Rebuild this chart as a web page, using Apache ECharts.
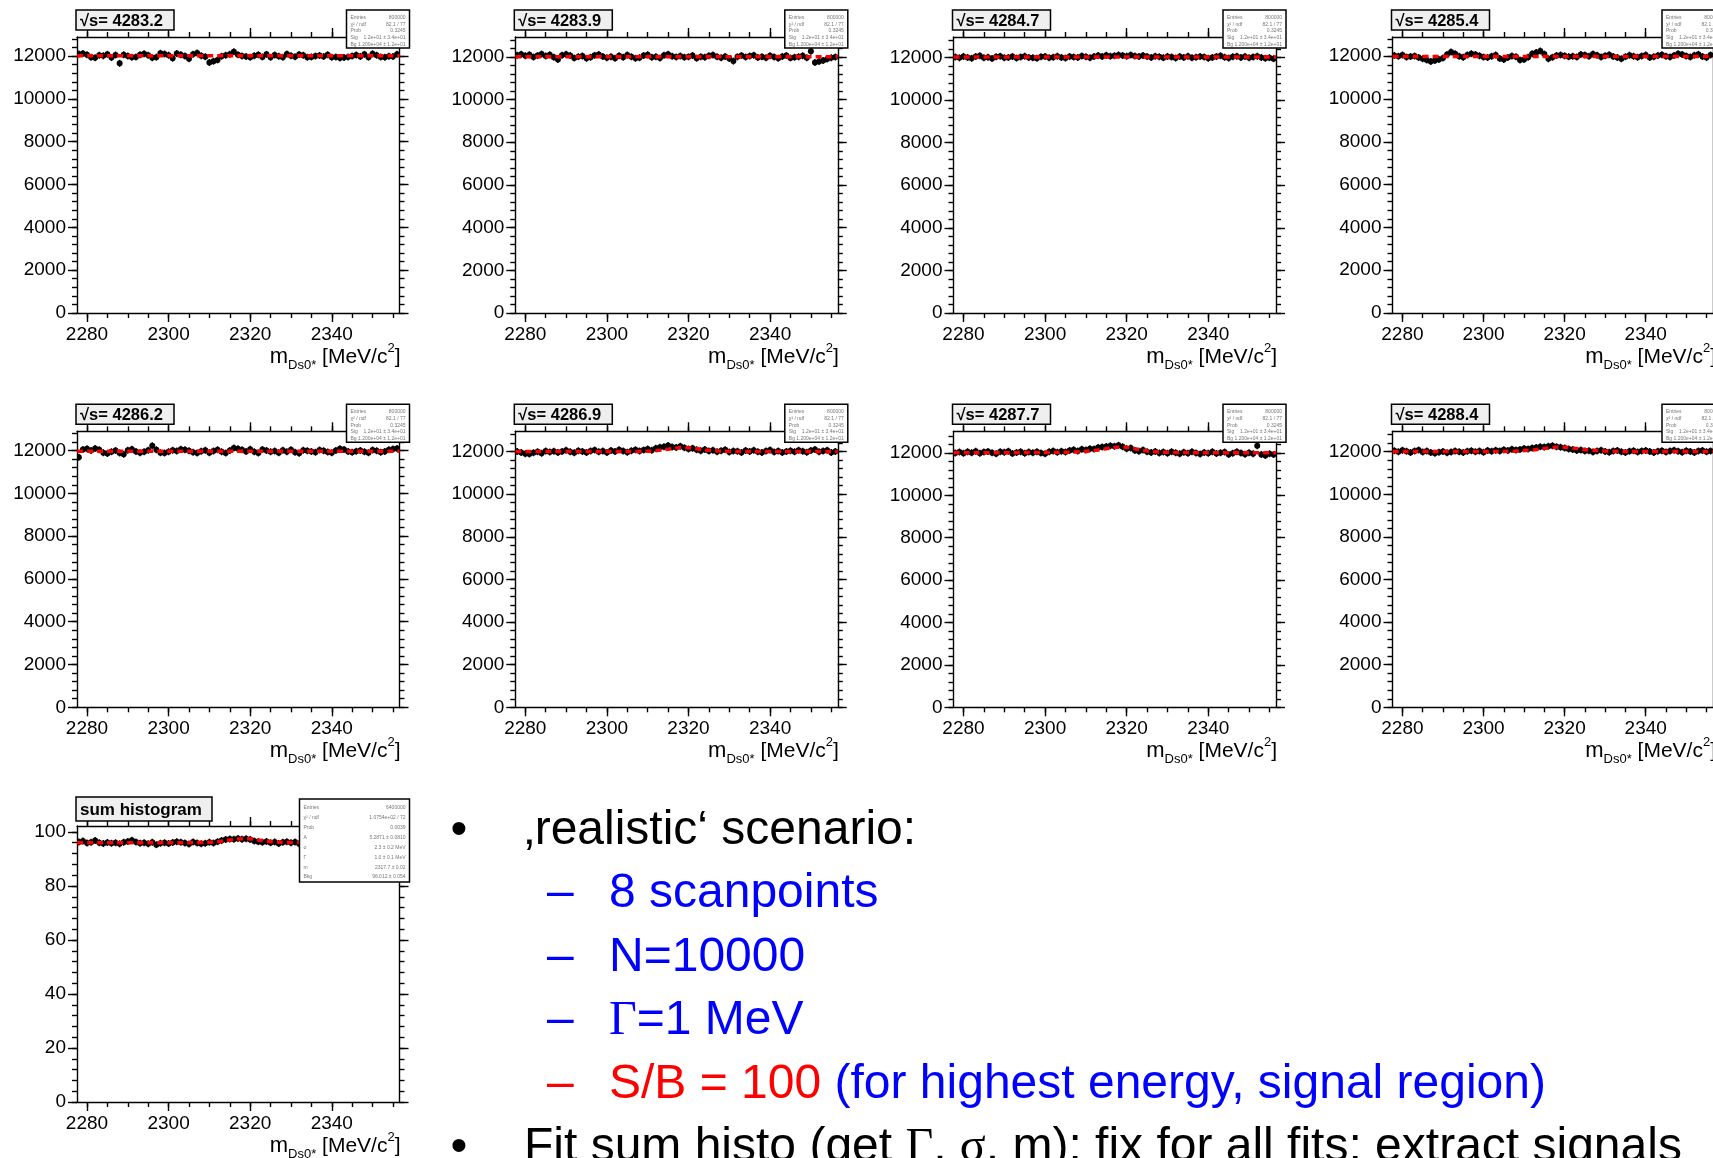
<!DOCTYPE html>
<html><head><meta charset="utf-8">
<script src="https://cdn.jsdelivr.net/npm/echarts@6.0.0/dist/echarts.min.js"></script>
<style>html,body{margin:0;padding:0;background:#fff;overflow:hidden}#c{width:1713px;height:1158px}</style>
</head><body><div id="c"></div>
<script>
// ---------------- DATA ----------------
const massBins = [
2278,2279,2280,2281,2282,2283,2284,2285,2286,2287,
2288,2289,2290,2291,2292,2293,2294,2295,2296,2297,
2298,2299,2300,2301,2302,2303,2304,2305,2306,2307,
2308,2309,2310,2311,2312,2313,2314,2315,2316,2317,
2318,2319,2320,2321,2322,2323,2324,2325,2326,2327,
2328,2329,2330,2331,2332,2333,2334,2335,2336,2337,
2338,2339,2340,2341,2342,2343,2344,2345,2346,2347,
2348,2349,2350,2351,2352,2353,2354,2355,2356];

const scanLabels = ['√s= 4283.2','√s= 4283.9','√s= 4284.7','√s= 4285.4','√s= 4286.2','√s= 4286.9','√s= 4287.7','√s= 4288.4'];

const counts4283_2 = [
12100,12120,12060,11950,11920,12040,12010,12080,11930,12050,
11660,12060,12000,11940,11960,12060,12110,12040,11920,11950,
12130,12100,12040,11900,12120,12060,12000,11880,12090,12140,
12010,11970,11700,11760,11820,11990,12040,12090,12200,12060,
12000,11980,11950,12020,12060,11960,12080,11940,12050,11990,
11940,12100,12010,11970,12070,12040,11950,11960,12000,12030,
11980,12060,11950,11960,11910,11930,11960,12000,12050,11980,
12080,11950,12110,12040,11960,11940,11990,11980,12080];
const counts4283_9 = [
12080,12120,12050,12100,11990,12060,12130,12040,12100,11980,
11880,12080,12120,12060,11950,12010,12040,11930,11980,12070,
12110,12020,11960,12000,11940,12050,11980,12090,12000,11930,
11960,12060,12100,11980,12010,11950,12070,12120,12030,11990,
12040,11980,12000,12060,11940,12010,11980,12050,12090,12000,
11960,12020,11920,11800,12000,12060,11990,12040,12080,11970,
12010,11960,12050,11990,11940,12020,12060,11950,11980,12000,
12050,11960,12260,11740,11780,11830,11900,11960,11990];
const counts4284_7 = [
12020,11980,12050,12000,11960,12040,12080,11990,12010,11950,
12030,12060,11980,12000,12040,11970,12020,12060,12000,11990,
11960,12030,12050,11980,12010,12060,12000,11970,12040,12020,
12000,12070,12030,11980,12050,12090,12040,12100,12060,12080,
12120,12090,12060,12110,12070,12040,12090,12050,12000,12060,
12030,11990,12050,12020,11970,12040,12000,12060,11980,12010,
12050,12020,11960,12000,12040,12080,12010,11970,12030,12060,
12000,12040,11980,12020,12060,12000,11960,11990,11940];
const counts4285_4 = [
12040,12000,12060,11960,11990,12010,11940,11880,11820,11760,
11800,11850,11920,12080,12200,12120,12000,11950,12060,12120,
12080,12020,11960,11940,12000,12060,11900,11850,11940,12010,
11980,11820,11850,11950,12120,12180,12250,12100,11880,11950,
12040,12060,12020,11980,12000,11960,12080,12060,12000,12100,
12050,11960,12020,12070,11990,11940,11880,11980,12050,12000,
11950,12010,12060,11940,11980,12040,12070,12000,11960,12040,
12120,12080,12010,11960,12050,12090,11990,11940,12060];
const counts4286_2 = [
11690,12050,12080,12000,12100,12040,11900,11860,11940,12000,
11880,11830,12020,12060,11960,11900,11950,12010,12230,12040,
11900,11880,11950,12020,11980,12060,12040,11990,11920,11880,
11970,12010,11900,11980,12040,11950,11890,12000,12120,12080,
12040,11960,12060,11950,11890,12050,12000,11940,11980,11900,
12020,11950,12040,11920,11870,12010,11990,11960,11920,12030,
11990,11930,11900,12000,12080,12050,11960,11920,11970,12000,
11950,11900,12030,11990,11920,11960,12040,12070,12100];
const counts4286_9 = [
12000,11960,11900,11880,11940,11990,11920,12030,11980,12010,
11950,12000,12060,11990,11940,12040,12000,11960,12020,12070,
11990,12030,11960,12050,12000,12080,12020,11970,12040,12090,
12030,12070,12120,12060,12150,12200,12230,12280,12210,12190,
12250,12180,12120,12160,12080,12040,12100,12020,12060,11990,
12040,12090,11980,12030,12010,11950,12050,12000,12060,11990,
11960,12030,12070,11980,12020,11950,12000,12040,11990,12060,
12010,11970,12050,12100,11990,12020,12060,11960,12000];
const counts4287_7 = [
12000,12040,11980,12060,12010,12080,11990,12040,12070,12010,
11960,12050,12030,12080,11970,12020,12060,11990,12040,12010,
12060,12000,11960,12050,12090,12030,12080,12040,12110,12150,
12090,12170,12140,12200,12180,12250,12280,12300,12340,12320,
12360,12290,12200,12230,12120,12080,12140,12060,12020,12070,
12000,12040,11980,12060,12010,11960,12030,11990,12050,12000,
11950,12020,11990,12060,11970,12010,12040,11930,11980,12050,
12000,11940,12010,11960,12340,11920,11880,11960,11930];
const counts4288_4 = [
12050,12000,12070,12020,11960,12040,12080,11990,12030,11970,
11930,11980,12010,11950,11990,12040,12000,11970,12020,12050,
12000,12040,11980,12060,12020,12070,12030,12090,12060,12120,
12080,12110,12150,12130,12180,12200,12240,12220,12260,12280,
12240,12210,12170,12130,12100,12060,12080,12030,12050,11990,
12030,12070,12010,11980,12040,12060,12000,11970,12020,12050,
11990,12030,12060,12010,11960,12020,12050,11990,12040,12070,
12020,11980,12050,12010,11970,12030,12060,12000,12040];
const countsSum = [
96.3,96.6,95.9,96.2,96.8,96.0,95.7,96.1,95.8,96.0,
95.6,96.2,96.5,96.9,96.3,95.8,96.0,95.6,96.2,95.3,
95.8,96.0,95.7,96.1,96.4,96.2,95.9,95.5,96.3,95.9,
95.6,95.8,96.2,95.9,96.4,96.8,97.2,97.4,97.3,97.6,
97.3,97.5,97.2,96.6,96.4,96.2,96.5,96.0,96.3,95.7,
96.2,96.4,96.0,96.3,95.6,95.2,95.8,96.1,95.9,96.3,
95.8,96.1,96.0,95.7,96.2,95.9,96.3,96.0,95.8,96.1,
95.9,96.2,96.0,95.7,96.1,95.8,96.3,96.0,95.9];

// fitted curves (value at selected masses)
const fitMass    = [2277.6,2300,2308,2312,2315,2317,2319,2321,2323,2326,2330,2340,2356.6];
const fit4283_2  = [12010,12010,12010,12010,12010,12010,12010,12010,12010,12010,12010,12010,12010];
const fit4283_9  = [12000,12000,12000,12000,12000,12000,12000,12000,12000,12000,12000,12000,12000];
const fit4284_7  = [12020,12020,12020,12020,12020,12020,12020,12020,12020,12020,12020,12020,12020];
const fit4285_4  = [11990,11990,11990,11990,11990,11990,11990,11990,11990,11990,11990,11990,11990];
const fit4286_2  = [11970,11970,11970,11970,11970,11970,11970,11970,11970,11970,11970,11970,11970];
const fit4286_9  = [12000,12000,12010,12040,12110,12170,12190,12160,12100,12040,12010,12000,12000];
const fit4287_7  = [12010,12020,12050,12110,12200,12260,12280,12240,12160,12070,12030,12010,12010];
const fit4288_4  = [12010,12010,12030,12080,12150,12200,12220,12200,12150,12080,12030,12010,12010];
const fitSum     = [96.0,96.0,96.1,96.4,97.0,97.4,97.5,97.3,96.8,96.3,96.1,96.0,96.0];

const xTickLabels   = [2280,2300,2320,2340];
const yTickLabels   = [0,2000,4000,6000,8000,10000,12000];
const yTickLabelsSum= [0,20,40,60,80,100];
const yMaxScan = [12890,12930,12960,12900,12900,12950,13020,12960];
const yMaxSum  = 102.2;

const statsScan = [['Entries','800000'],['χ² / ndf','82.1 / 77'],['Prob','0.3245'],['Sig','1.2e+01 ± 3.4e+01'],['Bg','1.200e+04 ± 1.2e+01']];
const statsSum  = [['Entries','6400000'],['χ² / ndf','1.0754e+02 / 72'],['Prob','0.0039'],['A','5.2871 ± 0.0810'],['σ','2.3 ± 0.2 MeV'],['Γ','1.0 ± 0.1 MeV'],['m','2317.7 ± 0.02'],['Bkg','96.012 ± 0.054']];

const bulletLines = [
  {kind:'bullet', text:'{k|‚realistic‘ scenario:}'},
  {kind:'sub', dash:'b', text:'{b|8 scanpoints}'},
  {kind:'sub', dash:'b', text:'{b|N=10000}'},
  {kind:'sub', dash:'b', text:'{bs|Γ}{b|=1 MeV}'},
  {kind:'sub', dash:'r', text:'{r|S/B = 100 }{b|(for highest energy, signal region)}'},
  {kind:'bullet', text:'{k|Fit sum histo (get }{ks|Γ}{k|, }{ks|σ}{k|, m): fix for all fits; extract signals}'}
];

// ---------------- LAYOUT ----------------
const FONT = "'Liberation Sans', Arial, Helvetica, sans-serif";
const SERIF = "'Liberation Serif', 'Times New Roman', serif";
const colLeft = [77, 515.3, 953.5, 1392.5];
const rowTop = [37, 431.3, 826];
const W = 322.5, H = 276;
const X_MIN = 2277.55, X_MAX = 2356.6;

const xMinor = []; for (let v = 2280; v <= 2355; v += 5) xMinor.push(v);
const yMinorScan = []; for (let v = 0; v <= 12800; v += 400) yMinorScan.push(v);
const yMinorSum = []; for (let v = 0; v <= 100; v += 4) yMinorSum.push(v);

const grids = [], xAxes = [], yAxes = [], series = [], graphics = [];
const tickStyle = {color:'#000', width:1.4};
const labelStyle = {fontSize:19, color:'#000', fontFamily:FONT, formatter: v => String(v)};

function renderHist(params, api) {
  const x = api.value(0), y = api.value(1);
  const p = api.coord([x, y]);
  const pl = api.coord([x - 0.5, y]);
  const pr = api.coord([x + 0.5, y]);
  return {type:'group', children:[
    {type:'line', shape:{x1:pl[0], y1:p[1], x2:pr[0], y2:p[1]}, style:{stroke:'#000', lineWidth:2}},
    {type:'line', shape:{x1:p[0], y1:p[1] - 3.5, x2:p[0], y2:p[1] + 3.5}, style:{stroke:'#000', lineWidth:1.4}},
    {type:'circle', shape:{cx:p[0], cy:p[1], r:3}, style:{fill:'#000'}}
  ]};
}

function addPanel(left, top, yMax, yLabels, yMinor, data, fit, title, titleW, titleFont, stats, statsW, statsH) {
  grids.push({left:left, top:top, width:W, height:H, show:false});
  const g = grids.length - 1;
  const xi = xAxes.length, yi = yAxes.length;
  const xb = {type:'value', gridIndex:g, min:X_MIN, max:X_MAX, splitLine:{show:false}};
  const yb = {type:'value', gridIndex:g, min:0, max:yMax, splitLine:{show:false}};
  const line = {show:true, onZero:false, lineStyle:{color:'#000', width:1.4}};
  const noLine = {show:false, onZero:false};
  xAxes.push(Object.assign({}, xb, {position:'bottom', axisLine:line,
    axisTick:{customValues:xTickLabels, length:9, lineStyle:tickStyle},
    axisLabel:Object.assign({customValues:xTickLabels, margin:12}, labelStyle)}));
  xAxes.push(Object.assign({}, xb, {position:'bottom', axisLine:noLine,
    axisTick:{customValues:xMinor, length:5, lineStyle:tickStyle}, axisLabel:{show:false}}));
  xAxes.push(Object.assign({}, xb, {position:'top', axisLine:line,
    axisTick:{customValues:xTickLabels, length:9, lineStyle:tickStyle}, axisLabel:{show:false}}));
  xAxes.push(Object.assign({}, xb, {position:'top', axisLine:noLine,
    axisTick:{customValues:xMinor, length:5, lineStyle:tickStyle}, axisLabel:{show:false}}));
  yAxes.push(Object.assign({}, yb, {position:'left', axisLine:line,
    axisTick:{customValues:yLabels, length:9, lineStyle:tickStyle},
    axisLabel:Object.assign({customValues:yLabels, margin:11}, labelStyle)}));
  yAxes.push(Object.assign({}, yb, {position:'left', axisLine:noLine,
    axisTick:{customValues:yMinor, length:5, lineStyle:tickStyle}, axisLabel:{show:false}}));
  yAxes.push(Object.assign({}, yb, {position:'right', axisLine:line,
    axisTick:{customValues:yLabels, length:9, lineStyle:tickStyle}, axisLabel:{show:false}}));
  yAxes.push(Object.assign({}, yb, {position:'right', axisLine:noLine,
    axisTick:{customValues:yMinor, length:5, lineStyle:tickStyle}, axisLabel:{show:false}}));

  series.push({type:'custom', xAxisIndex:xi, yAxisIndex:yi, renderItem:renderHist, clip:true, z:3, silent:true,
    data: massBins.map((m, i) => [m, data[i]])});
  series.push({type:'line', xAxisIndex:xi, yAxisIndex:yi, smooth:0.35, showSymbol:false, silent:true, z:4,
    lineStyle:{color:'#ff0000', width:3.5, type:[6,4]},
    data: fitMass.map((m, i) => [m, fit[i]])});

  // title box
  const big = titleFont > 16.5;
  const tTop = top - 27 - (big ? 2 : 0);
  const tH = big ? 24 : 20;
  graphics.push({type:'rect', z:100, shape:{x:left - 1, y:tTop, width:titleW, height:tH},
    style:{fill:'#efefef', stroke:'#000', lineWidth:1.5}});
  graphics.push({type:'text', z:101, style:{x:left + 3, y:tTop + tH / 2 + 1, text:title, fill:'#000',
    font:'bold ' + titleFont + 'px ' + FONT, verticalAlign:'middle', align:'left'}});
  // stats box
  const sx = left + W - statsW + 10, sy = top - 27;
  graphics.push({type:'rect', z:100, shape:{x:sx, y:sy, width:statsW, height:statsH},
    style:{fill:'#fff', stroke:'#000', lineWidth:1.5}});
  const step = (statsH - 4) / stats.length;
  stats.forEach((row, i) => {
    const yy = sy + 4 + step * (i + 0.5);
    graphics.push({type:'text', z:101, style:{x:sx + 4, y:yy, text:row[0], fill:'#777', font:'5px ' + FONT, verticalAlign:'middle', align:'left'}});
    graphics.push({type:'text', z:101, style:{x:sx + statsW - 4, y:yy, text:row[1], fill:'#777', font:'5px ' + FONT, verticalAlign:'middle', align:'right'}});
  });
  // x-axis title
  graphics.push({type:'text', z:101, style:{x:left + W + 1, y:top + H + 44, align:'right', verticalAlign:'middle',
    text:'{m|m}{s|Ds0*}{t| [MeV/c}{p|2}{t|]}',
    rich:{
      m:{fontSize:22, fontFamily:FONT, fill:'#000', color:'#000', lineHeight:30, verticalAlign:'middle'},
      t:{fontSize:21, fontFamily:FONT, fill:'#000', color:'#000', lineHeight:30, verticalAlign:'middle'},
      s:{fontSize:13, fontFamily:FONT, fill:'#000', color:'#000', lineHeight:12, verticalAlign:'bottom'},
      p:{fontSize:13, fontFamily:FONT, fill:'#000', color:'#000', lineHeight:15, verticalAlign:'top'}
    }}});
}

const scanData = [counts4283_2, counts4283_9, counts4284_7, counts4285_4, counts4286_2, counts4286_9, counts4287_7, counts4288_4];
const scanFits = [fit4283_2, fit4283_9, fit4284_7, fit4285_4, fit4286_2, fit4286_9, fit4287_7, fit4288_4];
for (let k = 0; k < 8; k++) {
  const r = Math.floor(k / 4), c = k % 4;
  addPanel(colLeft[c], rowTop[r], yMaxScan[k], yTickLabels, yMinorScan, scanData[k], scanFits[k],
    scanLabels[k], 98, 16.5, statsScan, 63, 38);
}
addPanel(colLeft[0], rowTop[2], yMaxSum, yTickLabelsSum, yMinorSum, countsSum, fitSum,
  'sum histogram', 136, 17, statsSum, 110, 83);

// bullet text block
const FS = 48;
const richStyles = {
  k:{fontSize:FS, fontFamily:FONT, fill:'#000', color:'#000', verticalAlign:'middle'},
  ks:{fontSize:FS, fontFamily:SERIF, fill:'#000', color:'#000', verticalAlign:'middle'},
  b:{fontSize:FS, fontFamily:FONT, fill:'#0000ff', color:'#0000ff', verticalAlign:'middle'},
  bs:{fontSize:FS, fontFamily:SERIF, fill:'#0000ff', color:'#0000ff', verticalAlign:'middle'},
  r:{fontSize:FS, fontFamily:FONT, fill:'#ff0000', color:'#ff0000', verticalAlign:'middle'}
};
const lineY0 = 830.5, lineStep = 63.5;
bulletLines.forEach((ln, i) => {
  const y = lineY0 + i * lineStep;
  if (ln.kind === 'bullet') {
    graphics.push({type:'text', z:101, style:{x:459, y:y, text:'•', align:'center', verticalAlign:'middle', font:FS + 'px ' + FONT, fill:'#000'}});
    graphics.push({type:'text', z:101, style:{x:524, y:y, text:ln.text, align:'left', verticalAlign:'middle', rich:richStyles, font:FS + 'px ' + FONT}});
  } else {
    graphics.push({type:'text', z:101, style:{x:547, y:y, text:'–', align:'left', verticalAlign:'middle', font:FS + 'px ' + FONT, fill: ln.dash === 'r' ? '#ff0000' : '#0000ff'}});
    graphics.push({type:'text', z:101, style:{x:609, y:y, text:ln.text, align:'left', verticalAlign:'middle', rich:richStyles, font:FS + 'px ' + FONT}});
  }
});

const chart = echarts.init(document.getElementById('c'), null, {renderer:'canvas'});
chart.setOption({
  animation:false,
  backgroundColor:'#fff',
  grid:grids, xAxis:xAxes, yAxis:yAxes, series:series, graphic:{elements:graphics}
});
</script></body></html>
